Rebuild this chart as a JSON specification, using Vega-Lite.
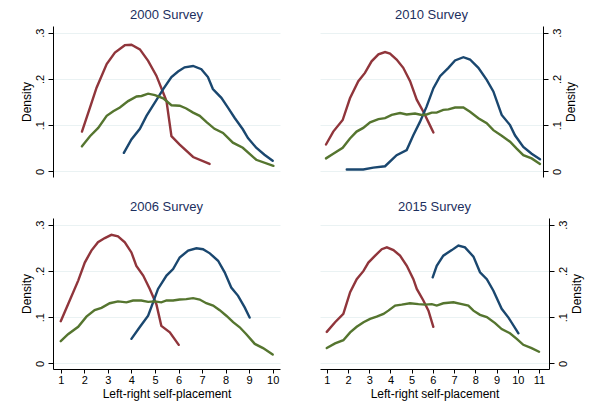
{
  "$schema": "https://vega.github.io/schema/vega-lite/v6.json",
  "padding": {"left": 20, "top": 9, "right": 10, "bottom": 5},
  "background": "white",
  "datasets": {
    "d": [
      {"s":"2000","c":"red","x":1.90,"y":0.086},{"s":"2000","c":"red","x":2.24,"y":0.138},{"s":"2000","c":"red","x":2.52,"y":0.181},{"s":"2000","c":"red","x":2.95,"y":0.232},{"s":"2000","c":"red","x":3.30,"y":0.257},{"s":"2000","c":"red","x":3.72,"y":0.273},{"s":"2000","c":"red","x":4.00,"y":0.274},{"s":"2000","c":"red","x":4.36,"y":0.264},{"s":"2000","c":"red","x":4.71,"y":0.239},{"s":"2000","c":"red","x":5.06,"y":0.207},{"s":"2000","c":"red","x":5.35,"y":0.170},{"s":"2000","c":"red","x":5.49,"y":0.152},{"s":"2000","c":"red","x":5.70,"y":0.076},{"s":"2000","c":"red","x":6.05,"y":0.058},{"s":"2000","c":"red","x":6.62,"y":0.031},{"s":"2000","c":"red","x":7.32,"y":0.016},
      {"s":"2000","c":"blue","x":3.68,"y":0.040},{"s":"2000","c":"blue","x":4.00,"y":0.069},{"s":"2000","c":"blue","x":4.36,"y":0.092},{"s":"2000","c":"blue","x":4.64,"y":0.120},{"s":"2000","c":"blue","x":5.00,"y":0.149},{"s":"2000","c":"blue","x":5.35,"y":0.178},{"s":"2000","c":"blue","x":5.70,"y":0.204},{"s":"2000","c":"blue","x":5.98,"y":0.216},{"s":"2000","c":"blue","x":6.26,"y":0.225},{"s":"2000","c":"blue","x":6.62,"y":0.228},{"s":"2000","c":"blue","x":6.97,"y":0.221},{"s":"2000","c":"blue","x":7.25,"y":0.204},{"s":"2000","c":"blue","x":7.46,"y":0.178},{"s":"2000","c":"blue","x":7.82,"y":0.159},{"s":"2000","c":"blue","x":8.10,"y":0.138},{"s":"2000","c":"blue","x":8.38,"y":0.116},{"s":"2000","c":"blue","x":8.73,"y":0.091},{"s":"2000","c":"blue","x":8.95,"y":0.072},{"s":"2000","c":"blue","x":9.30,"y":0.051},{"s":"2000","c":"blue","x":9.65,"y":0.036},{"s":"2000","c":"blue","x":10.0,"y":0.023},
      {"s":"2000","c":"green","x":1.90,"y":0.054},{"s":"2000","c":"green","x":2.24,"y":0.076},{"s":"2000","c":"green","x":2.59,"y":0.094},{"s":"2000","c":"green","x":2.95,"y":0.120},{"s":"2000","c":"green","x":3.23,"y":0.130},{"s":"2000","c":"green","x":3.51,"y":0.138},{"s":"2000","c":"green","x":3.86,"y":0.152},{"s":"2000","c":"green","x":4.22,"y":0.162},{"s":"2000","c":"green","x":4.43,"y":0.163},{"s":"2000","c":"green","x":4.71,"y":0.168},{"s":"2000","c":"green","x":5.00,"y":0.165},{"s":"2000","c":"green","x":5.35,"y":0.158},{"s":"2000","c":"green","x":5.70,"y":0.143},{"s":"2000","c":"green","x":6.05,"y":0.142},{"s":"2000","c":"green","x":6.33,"y":0.136},{"s":"2000","c":"green","x":6.62,"y":0.127},{"s":"2000","c":"green","x":6.90,"y":0.120},{"s":"2000","c":"green","x":7.18,"y":0.107},{"s":"2000","c":"green","x":7.53,"y":0.092},{"s":"2000","c":"green","x":7.89,"y":0.083},{"s":"2000","c":"green","x":8.31,"y":0.062},{"s":"2000","c":"green","x":8.73,"y":0.051},{"s":"2000","c":"green","x":9.30,"y":0.025},{"s":"2000","c":"green","x":10.03,"y":0.012},

      {"s":"2010","c":"red","x":1.00,"y":0.058},{"s":"2010","c":"red","x":1.34,"y":0.086},{"s":"2010","c":"red","x":1.78,"y":0.111},{"s":"2010","c":"red","x":2.12,"y":0.158},{"s":"2010","c":"red","x":2.51,"y":0.195},{"s":"2010","c":"red","x":2.82,"y":0.213},{"s":"2010","c":"red","x":3.13,"y":0.238},{"s":"2010","c":"red","x":3.45,"y":0.253},{"s":"2010","c":"red","x":3.76,"y":0.258},{"s":"2010","c":"red","x":3.99,"y":0.255},{"s":"2010","c":"red","x":4.30,"y":0.242},{"s":"2010","c":"red","x":4.61,"y":0.224},{"s":"2010","c":"red","x":4.93,"y":0.195},{"s":"2010","c":"red","x":5.24,"y":0.155},{"s":"2010","c":"red","x":5.55,"y":0.129},{"s":"2010","c":"red","x":5.78,"y":0.107},{"s":"2010","c":"red","x":6.02,"y":0.084},
      {"s":"2010","c":"blue","x":1.97,"y":0.004},{"s":"2010","c":"blue","x":2.74,"y":0.004},{"s":"2010","c":"blue","x":3.21,"y":0.008},{"s":"2010","c":"blue","x":3.76,"y":0.011},{"s":"2010","c":"blue","x":4.30,"y":0.035},{"s":"2010","c":"blue","x":4.77,"y":0.046},{"s":"2010","c":"blue","x":5.08,"y":0.078},{"s":"2010","c":"blue","x":5.39,"y":0.107},{"s":"2010","c":"blue","x":5.70,"y":0.140},{"s":"2010","c":"blue","x":6.02,"y":0.180},{"s":"2010","c":"blue","x":6.33,"y":0.206},{"s":"2010","c":"blue","x":6.72,"y":0.224},{"s":"2010","c":"blue","x":7.03,"y":0.240},{"s":"2010","c":"blue","x":7.42,"y":0.247},{"s":"2010","c":"blue","x":7.73,"y":0.242},{"s":"2010","c":"blue","x":8.12,"y":0.224},{"s":"2010","c":"blue","x":8.51,"y":0.198},{"s":"2010","c":"blue","x":8.82,"y":0.173},{"s":"2010","c":"blue","x":9.21,"y":0.122},{"s":"2010","c":"blue","x":9.60,"y":0.100},{"s":"2010","c":"blue","x":9.83,"y":0.078},{"s":"2010","c":"blue","x":10.22,"y":0.053},{"s":"2010","c":"blue","x":10.61,"y":0.038},{"s":"2010","c":"blue","x":11.0,"y":0.026},
      {"s":"2010","c":"green","x":1.00,"y":0.028},{"s":"2010","c":"green","x":1.34,"y":0.038},{"s":"2010","c":"green","x":1.78,"y":0.051},{"s":"2010","c":"green","x":2.12,"y":0.071},{"s":"2010","c":"green","x":2.43,"y":0.086},{"s":"2010","c":"green","x":2.74,"y":0.094},{"s":"2010","c":"green","x":3.06,"y":0.106},{"s":"2010","c":"green","x":3.45,"y":0.113},{"s":"2010","c":"green","x":3.76,"y":0.115},{"s":"2010","c":"green","x":4.07,"y":0.122},{"s":"2010","c":"green","x":4.46,"y":0.126},{"s":"2010","c":"green","x":4.77,"y":0.123},{"s":"2010","c":"green","x":5.16,"y":0.125},{"s":"2010","c":"green","x":5.47,"y":0.122},{"s":"2010","c":"green","x":5.70,"y":0.123},{"s":"2010","c":"green","x":5.94,"y":0.127},{"s":"2010","c":"green","x":6.17,"y":0.127},{"s":"2010","c":"green","x":6.48,"y":0.133},{"s":"2010","c":"green","x":6.72,"y":0.134},{"s":"2010","c":"green","x":7.03,"y":0.138},{"s":"2010","c":"green","x":7.42,"y":0.138},{"s":"2010","c":"green","x":7.73,"y":0.129},{"s":"2010","c":"green","x":8.12,"y":0.115},{"s":"2010","c":"green","x":8.51,"y":0.104},{"s":"2010","c":"green","x":8.82,"y":0.089},{"s":"2010","c":"green","x":9.21,"y":0.077},{"s":"2010","c":"green","x":9.60,"y":0.064},{"s":"2010","c":"green","x":9.91,"y":0.049},{"s":"2010","c":"green","x":10.22,"y":0.035},{"s":"2010","c":"green","x":10.61,"y":0.028},{"s":"2010","c":"green","x":11.0,"y":0.016},

      {"s":"2006","c":"red","x":1.00,"y":0.091},{"s":"2006","c":"red","x":1.31,"y":0.128},{"s":"2006","c":"red","x":1.74,"y":0.179},{"s":"2006","c":"red","x":2.02,"y":0.218},{"s":"2006","c":"red","x":2.30,"y":0.244},{"s":"2006","c":"red","x":2.58,"y":0.262},{"s":"2006","c":"red","x":2.87,"y":0.271},{"s":"2006","c":"red","x":3.15,"y":0.278},{"s":"2006","c":"red","x":3.43,"y":0.275},{"s":"2006","c":"red","x":3.72,"y":0.262},{"s":"2006","c":"red","x":4.00,"y":0.240},{"s":"2006","c":"red","x":4.21,"y":0.211},{"s":"2006","c":"red","x":4.50,"y":0.190},{"s":"2006","c":"red","x":4.78,"y":0.161},{"s":"2006","c":"red","x":5.06,"y":0.128},{"s":"2006","c":"red","x":5.27,"y":0.081},{"s":"2006","c":"red","x":5.63,"y":0.067},{"s":"2006","c":"red","x":6.01,"y":0.040},
      {"s":"2006","c":"blue","x":4.00,"y":0.053},{"s":"2006","c":"blue","x":4.35,"y":0.078},{"s":"2006","c":"blue","x":4.71,"y":0.103},{"s":"2006","c":"blue","x":4.92,"y":0.132},{"s":"2006","c":"blue","x":5.13,"y":0.161},{"s":"2006","c":"blue","x":5.49,"y":0.190},{"s":"2006","c":"blue","x":5.77,"y":0.204},{"s":"2006","c":"blue","x":6.05,"y":0.229},{"s":"2006","c":"blue","x":6.41,"y":0.244},{"s":"2006","c":"blue","x":6.76,"y":0.249},{"s":"2006","c":"blue","x":7.04,"y":0.247},{"s":"2006","c":"blue","x":7.33,"y":0.238},{"s":"2006","c":"blue","x":7.68,"y":0.222},{"s":"2006","c":"blue","x":7.96,"y":0.197},{"s":"2006","c":"blue","x":8.24,"y":0.164},{"s":"2006","c":"blue","x":8.53,"y":0.146},{"s":"2006","c":"blue","x":8.81,"y":0.121},{"s":"2006","c":"blue","x":9.02,"y":0.099},
      {"s":"2006","c":"green","x":1.00,"y":0.048},{"s":"2006","c":"green","x":1.31,"y":0.063},{"s":"2006","c":"green","x":1.74,"y":0.079},{"s":"2006","c":"green","x":2.09,"y":0.101},{"s":"2006","c":"green","x":2.44,"y":0.115},{"s":"2006","c":"green","x":2.73,"y":0.120},{"s":"2006","c":"green","x":3.08,"y":0.130},{"s":"2006","c":"green","x":3.43,"y":0.134},{"s":"2006","c":"green","x":3.79,"y":0.132},{"s":"2006","c":"green","x":4.07,"y":0.136},{"s":"2006","c":"green","x":4.42,"y":0.136},{"s":"2006","c":"green","x":4.71,"y":0.133},{"s":"2006","c":"green","x":4.99,"y":0.134},{"s":"2006","c":"green","x":5.27,"y":0.132},{"s":"2006","c":"green","x":5.49,"y":0.136},{"s":"2006","c":"green","x":5.77,"y":0.136},{"s":"2006","c":"green","x":6.05,"y":0.138},{"s":"2006","c":"green","x":6.33,"y":0.139},{"s":"2006","c":"green","x":6.62,"y":0.141},{"s":"2006","c":"green","x":6.90,"y":0.138},{"s":"2006","c":"green","x":7.18,"y":0.130},{"s":"2006","c":"green","x":7.47,"y":0.125},{"s":"2006","c":"green","x":7.75,"y":0.115},{"s":"2006","c":"green","x":8.03,"y":0.103},{"s":"2006","c":"green","x":8.32,"y":0.089},{"s":"2006","c":"green","x":8.60,"y":0.078},{"s":"2006","c":"green","x":8.88,"y":0.063},{"s":"2006","c":"green","x":9.24,"y":0.042},{"s":"2006","c":"green","x":9.59,"y":0.033},{"s":"2006","c":"green","x":10.0,"y":0.019},

      {"s":"2015","c":"red","x":1.00,"y":0.068},{"s":"2015","c":"red","x":1.39,"y":0.089},{"s":"2015","c":"red","x":1.78,"y":0.107},{"s":"2015","c":"red","x":2.10,"y":0.154},{"s":"2015","c":"red","x":2.41,"y":0.182},{"s":"2015","c":"red","x":2.73,"y":0.200},{"s":"2015","c":"red","x":2.96,"y":0.218},{"s":"2015","c":"red","x":3.28,"y":0.233},{"s":"2015","c":"red","x":3.59,"y":0.247},{"s":"2015","c":"red","x":3.83,"y":0.251},{"s":"2015","c":"red","x":4.14,"y":0.245},{"s":"2015","c":"red","x":4.45,"y":0.233},{"s":"2015","c":"red","x":4.77,"y":0.211},{"s":"2015","c":"red","x":5.08,"y":0.182},{"s":"2015","c":"red","x":5.24,"y":0.161},{"s":"2015","c":"red","x":5.55,"y":0.136},{"s":"2015","c":"red","x":5.79,"y":0.114},{"s":"2015","c":"red","x":6.02,"y":0.079},
      {"s":"2015","c":"blue","x":5.99,"y":0.186},{"s":"2015","c":"blue","x":6.18,"y":0.211},{"s":"2015","c":"blue","x":6.49,"y":0.233},{"s":"2015","c":"blue","x":6.89,"y":0.245},{"s":"2015","c":"blue","x":7.20,"y":0.255},{"s":"2015","c":"blue","x":7.51,"y":0.251},{"s":"2015","c":"blue","x":7.91,"y":0.231},{"s":"2015","c":"blue","x":8.22,"y":0.197},{"s":"2015","c":"blue","x":8.54,"y":0.182},{"s":"2015","c":"blue","x":8.85,"y":0.157},{"s":"2015","c":"blue","x":9.24,"y":0.118},{"s":"2015","c":"blue","x":9.56,"y":0.099},{"s":"2015","c":"blue","x":10.03,"y":0.065},
      {"s":"2015","c":"green","x":1.00,"y":0.033},{"s":"2015","c":"green","x":1.39,"y":0.043},{"s":"2015","c":"green","x":1.78,"y":0.050},{"s":"2015","c":"green","x":2.10,"y":0.067},{"s":"2015","c":"green","x":2.41,"y":0.079},{"s":"2015","c":"green","x":2.73,"y":0.089},{"s":"2015","c":"green","x":3.04,"y":0.096},{"s":"2015","c":"green","x":3.35,"y":0.101},{"s":"2015","c":"green","x":3.67,"y":0.107},{"s":"2015","c":"green","x":3.90,"y":0.114},{"s":"2015","c":"green","x":4.22,"y":0.125},{"s":"2015","c":"green","x":4.53,"y":0.127},{"s":"2015","c":"green","x":4.92,"y":0.130},{"s":"2015","c":"green","x":5.32,"y":0.128},{"s":"2015","c":"green","x":5.63,"y":0.127},{"s":"2015","c":"green","x":5.95,"y":0.128},{"s":"2015","c":"green","x":6.18,"y":0.125},{"s":"2015","c":"green","x":6.49,"y":0.130},{"s":"2015","c":"green","x":6.97,"y":0.132},{"s":"2015","c":"green","x":7.36,"y":0.128},{"s":"2015","c":"green","x":7.67,"y":0.125},{"s":"2015","c":"green","x":7.91,"y":0.114},{"s":"2015","c":"green","x":8.22,"y":0.105},{"s":"2015","c":"green","x":8.54,"y":0.100},{"s":"2015","c":"green","x":8.93,"y":0.087},{"s":"2015","c":"green","x":9.24,"y":0.074},{"s":"2015","c":"green","x":9.63,"y":0.065},{"s":"2015","c":"green","x":9.95,"y":0.053},{"s":"2015","c":"green","x":10.26,"y":0.040},{"s":"2015","c":"green","x":10.65,"y":0.033},{"s":"2015","c":"green","x":11.0,"y":0.025}
    ]
  },
  "data": {"name": "d"},
  "spacing": 24,
  "vconcat": [
    {
      "spacing": 40,
      "hconcat": [
        {
          "width": 227, "height": 151,
          "title": "2000 Survey",
          "transform": [{"filter": "datum.s == '2000'"}],
          "mark": {"type": "line", "strokeWidth": 2.4, "strokeCap": "round"},
          "encoding": {
            "x": {"field": "x", "type": "quantitative", "scale": {"domain": [0.67, 10.31], "nice": false, "zero": false}, "axis": null},
            "y": {"field": "y", "type": "quantitative", "scale": {"domain": [-0.0123, 0.3145], "nice": false, "zero": false},
                  "axis": {"orient": "left", "title": "Density", "values": [0, 0.1, 0.2, 0.3], "labelExpr": "datum.value == 0 ? '0' : substring(format(datum.value, '.1f'), 1)", "labelAngle": 270, "labelAlign": "center", "labelBaseline": "bottom", "tickSize": 5, "labelPadding": 3, "titlePadding": 1, "grid": true}},
            "color": {"field": "c", "type": "nominal", "scale": {"domain": ["red", "blue", "green"], "range": ["#90353b", "#1a476f", "#55752f"]}, "legend": null}
          }
        },
        {
          "width": 223, "height": 151,
          "title": "2010 Survey",
          "transform": [{"filter": "datum.s == '2010'"}],
          "mark": {"type": "line", "strokeWidth": 2.4, "strokeCap": "round"},
          "encoding": {
            "x": {"field": "x", "type": "quantitative", "scale": {"domain": [0.72, 11.14], "nice": false, "zero": false}, "axis": null},
            "y": {"field": "y", "type": "quantitative", "scale": {"domain": [-0.0123, 0.3145], "nice": false, "zero": false},
                  "axis": {"orient": "right", "title": "Density", "titleAngle": 270, "titleBaseline": "top", "values": [0, 0.1, 0.2, 0.3], "labelExpr": "datum.value == 0 ? '0' : substring(format(datum.value, '.1f'), 1)", "labelAngle": 270, "labelAlign": "center", "labelBaseline": "top", "tickSize": 5, "labelPadding": 3, "titlePadding": 3, "grid": true}},
            "color": {"field": "c", "type": "nominal", "scale": {"domain": ["red", "blue", "green"], "range": ["#90353b", "#1a476f", "#55752f"]}, "legend": null}
          }
        }
      ]
    },
    {
      "spacing": 40,
      "hconcat": [
        {
          "width": 227, "height": 151,
          "title": "2006 Survey",
          "transform": [{"filter": "datum.s == '2006'"}],
          "mark": {"type": "line", "strokeWidth": 2.4, "strokeCap": "round"},
          "encoding": {
            "x": {"field": "x", "type": "quantitative", "scale": {"domain": [0.67, 10.31], "nice": false, "zero": false},
                  "axis": {"title": "Left-right self-placement", "values": [1, 2, 3, 4, 5, 6, 7, 8, 9, 10], "format": "d", "tickSize": 4, "labelPadding": 1, "titlePadding": 3, "grid": false}},
            "y": {"field": "y", "type": "quantitative", "scale": {"domain": [-0.0123, 0.3145], "nice": false, "zero": false},
                  "axis": {"orient": "left", "title": "Density", "values": [0, 0.1, 0.2, 0.3], "labelExpr": "datum.value == 0 ? '0' : substring(format(datum.value, '.1f'), 1)", "labelAngle": 270, "labelAlign": "center", "labelBaseline": "bottom", "tickSize": 5, "labelPadding": 3, "titlePadding": 1, "grid": true}},
            "color": {"field": "c", "type": "nominal", "scale": {"domain": ["red", "blue", "green"], "range": ["#90353b", "#1a476f", "#55752f"]}, "legend": null}
          }
        },
        {
          "width": 229, "height": 151,
          "title": "2015 Survey",
          "transform": [{"filter": "datum.s == '2015'"}],
          "mark": {"type": "line", "strokeWidth": 2.4, "strokeCap": "round"},
          "encoding": {
            "x": {"field": "x", "type": "quantitative", "scale": {"domain": [0.68, 11.47], "nice": false, "zero": false},
                  "axis": {"title": "Left-right self-placement", "values": [1, 2, 3, 4, 5, 6, 7, 8, 9, 10, 11], "format": "d", "tickSize": 4, "labelPadding": 1, "titlePadding": 3, "grid": false}},
            "y": {"field": "y", "type": "quantitative", "scale": {"domain": [-0.0123, 0.3145], "nice": false, "zero": false},
                  "axis": {"orient": "right", "title": "Density", "titleAngle": 270, "titleBaseline": "top", "values": [0, 0.1, 0.2, 0.3], "labelExpr": "datum.value == 0 ? '0' : substring(format(datum.value, '.1f'), 1)", "labelAngle": 270, "labelAlign": "center", "labelBaseline": "top", "tickSize": 5, "labelPadding": 3, "titlePadding": 3, "grid": true}},
            "color": {"field": "c", "type": "nominal", "scale": {"domain": ["red", "blue", "green"], "range": ["#90353b", "#1a476f", "#55752f"]}, "legend": null}
          }
        }
      ]
    }
  ],
  "config": {
    "view": {"stroke": null},
    "font": "Liberation Sans",
    "title": {"font": "Liberation Sans", "fontSize": 13, "fontWeight": "normal", "color": "#1c2f5e", "anchor": "middle", "offset": 4},
    "axis": {
      "labelFont": "Liberation Sans", "titleFont": "Liberation Sans",
      "labelFontSize": 11, "titleFontSize": 12, "titleFontWeight": "normal",
      "labelColor": "#000000", "titleColor": "#000000",
      "domainColor": "#000000", "tickColor": "#000000", "domainWidth": 1, "tickWidth": 1,
      "gridColor": "#eaf2f3", "gridWidth": 1, "labelOverlap": false
    }
  }
}
